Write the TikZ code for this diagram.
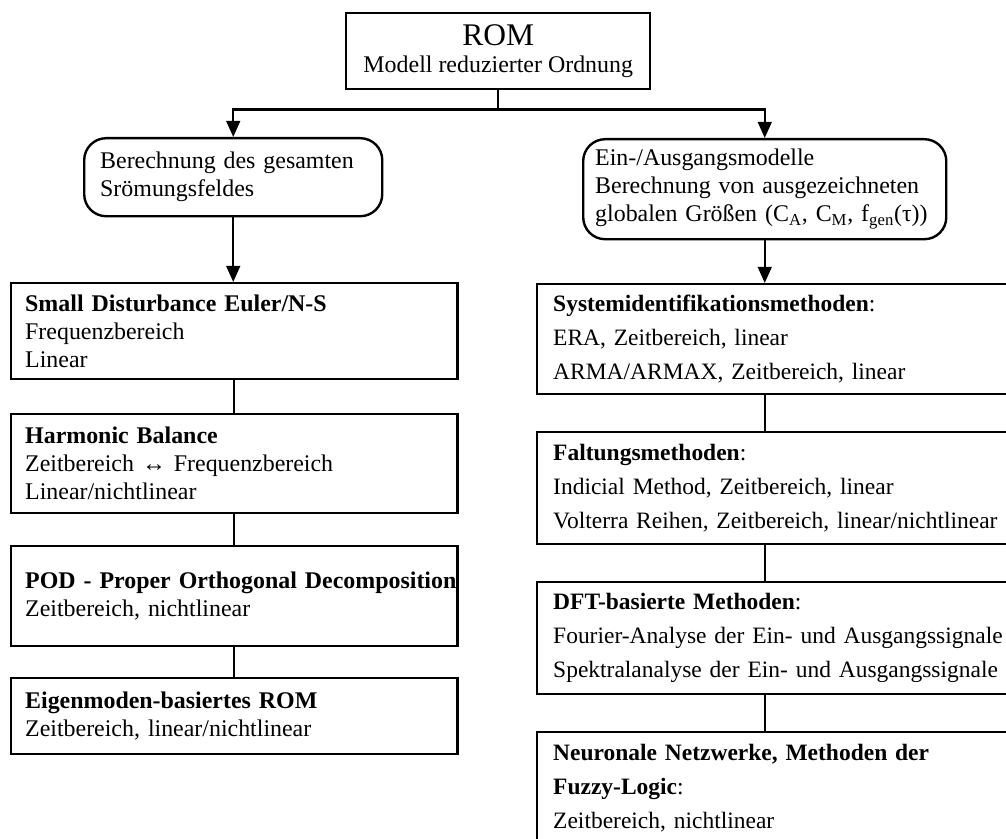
\documentclass[tikz,border=0pt]{standalone}
\usepackage{fontspec}
\setmainfont{Liberation Serif}
\usetikzlibrary{arrows.meta}

\tikzset{
  blk/.style={draw, line width=1.7pt, anchor=north west, inner xsep=0.35cm, inner ysep=0pt},
  lbox/.style={blk, text width=10.45cm, align=left, font=\fontsize{17}{19.9}\selectfont},
  rbox/.style={blk, inner xsep=0.4cm, text width=11.8cm, align=left, font=\fontsize{16.7}{24.2}\selectfont},
  rnd/.style={blk, rounded corners=0.55cm, align=left, font=\fontsize{17}{20}\selectfont},
  conn/.style={line width=1.7pt},
  arr/.style={conn, -{Triangle[length=0.4cm, width=0.34cm]}}
}

\begin{document}
\begin{tikzpicture}[x=0.025cm, y=-0.025cm]
\useasboundingbox (0,0) rectangle (1006,839);
\clip (0,0) rectangle (1006,839);

\node[blk, align=center, minimum width=7.6cm, minimum height=1.9cm, font=\fontsize{17}{19.2}\selectfont] (rom) at (345,12)
  {{\fontsize{22.4}{24}\selectfont ROM}\\Modell reduzierter Ordnung};

\node[rnd, inner xsep=0.4cm, text width=6.65cm, minimum height=1.95cm] (lrnd) at (83,137)
  {Berechnung des gesamten\\Srömungsfeldes};
\node[rnd, inner xsep=0.3cm, text width=8.475cm, minimum height=2.5cm] (rrnd) at (582,138)
  {Ein-/Ausgangsmodelle\\Berechnung von ausgezeichneten\\globalen Größen (C\textsubscript{A}, C\textsubscript{M}, f\textsubscript{gen}(τ))};

\node[lbox, minimum height=2.4cm] (sde) at (10,282)
  {\textbf{Small Disturbance Euler/N-S}\\Frequenzbereich\\Linear};
\node[lbox, minimum height=2.475cm] (hb) at (10,413)
  {\textbf{Harmonic Balance}\\Zeitbereich ↔ Frequenzbereich\\Linear/nichtlinear};
\node[lbox, minimum height=2.5cm] (pod) at (10,545)
  {\mbox{\textbf{POD - Proper Orthogonal Decomposition}}\\Zeitbereich, nichtlinear};
\node[lbox, minimum height=1.9cm] (eig) at (10,677)
  {\textbf{Eigenmoden-basiertes ROM}\\Zeitbereich, linear/nichtlinear};

\node[rbox, minimum height=2.75cm] (sys) at (536,283)
  {\textbf{Systemidentifikationsmethoden}:\\ERA, Zeitbereich, linear\\ARMA/ARMAX, Zeitbereich, linear};
\node[rbox, minimum height=2.8cm] (falt) at (536,431)
  {\textbf{Faltungsmethoden}:\\Indicial Method, Zeitbereich, linear\\Volterra Reihen, Zeitbereich, linear/nichtlinear};
\node[rbox, minimum height=2.8cm] (dft) at (536,581)
  {\textbf{DFT-basierte Methoden}:\\Fourier-Analyse der Ein- und Ausgangssignale\\Spektralanalyse der Ein- und Ausgangssignale};
\node[rbox, minimum height=2.8cm] (nn) at (536,731)
  {\textbf{Neuronale Netzwerke, Methoden der}\\\textbf{Fuzzy-Logic}:\\Zeitbereich, nichtlinear};

\draw[arr] (rom.south) -- ++(0,19) -| (lrnd.north);
\draw[arr] (rom.south) -- ++(0,19) -| (rrnd.north);
\draw[arr] (lrnd.south) -- (lrnd.south |- sde.north);
\draw[arr] (rrnd.south) -- (rrnd.south |- sys.north);

\draw[conn] (sde.south) -- (hb.north);
\draw[conn] (hb.south) -- (pod.north);
\draw[conn] (pod.south) -- (eig.north);

\draw[conn] (sys.south -| rrnd.south) -- (falt.north -| rrnd.south);
\draw[conn] (falt.south -| rrnd.south) -- (dft.north -| rrnd.south);
\draw[conn] (dft.south -| rrnd.south) -- (nn.north -| rrnd.south);
\end{tikzpicture}
\end{document}
